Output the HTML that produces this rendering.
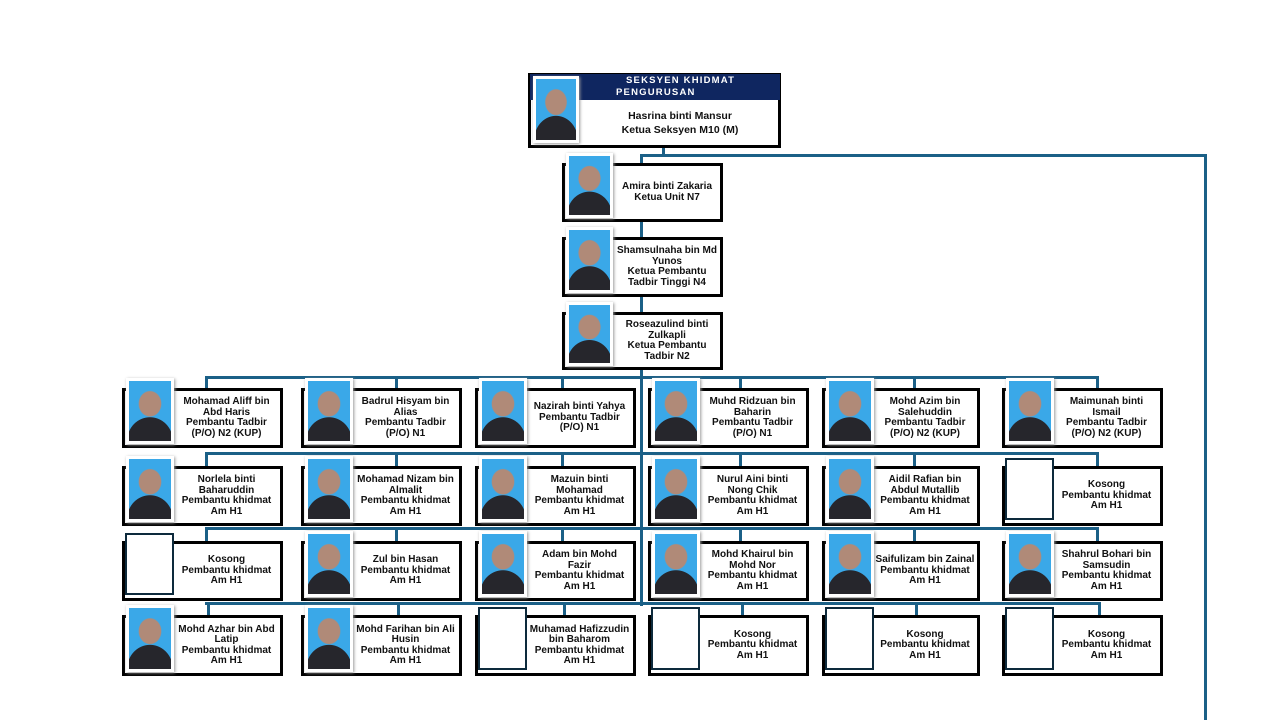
<!DOCTYPE html>
<html><head><meta charset="utf-8"><style>
body{margin:0;width:1280px;height:720px;background:#fff;position:relative;overflow:hidden;font-family:"Liberation Sans",sans-serif}
.l{position:absolute;background:#1b6087}
.b{position:absolute;border:3px solid #000;background:#fff;box-sizing:border-box}
.t{position:absolute;font-size:10px;font-weight:bold;text-align:center;line-height:10.5px;color:#111;display:flex;align-items:center;justify-content:center}
.p{position:absolute;background:#fff;box-shadow:1px 1px 3px #999;box-sizing:border-box;padding:3px}
.p div{width:100%;height:100%;background:radial-gradient(ellipse 28% 22% at 50% 38%,#b08a78 0 92%,transparent 100%),radial-gradient(ellipse 55% 40% at 50% 100%,#26262c 0 98%,transparent 100%),#3aa8e8}
.k{position:absolute;border:2px solid #0d2a3c;background:#fff;box-sizing:border-box}
</style></head><body>
<div class="l" style="left:662px;top:146px;width:3px;height:10px"></div>
<div class="l" style="left:640px;top:154px;width:567px;height:3px"></div>
<div class="l" style="left:1204px;top:154px;width:3px;height:566px"></div>
<div class="l" style="left:640px;top:154px;width:3px;height:452px"></div>

<div class="l" style="left:205px;top:376px;width:894px;height:3px"></div>
<div class="l" style="left:205px;top:452px;width:894px;height:3px"></div>
<div class="l" style="left:205px;top:527px;width:894px;height:3px"></div>
<div class="l" style="left:205px;top:602px;width:894px;height:3px"></div>

<div class="b" style="left:528px;top:73px;width:253px;height:75px"></div>
<div style="position:absolute;left:530px;top:74px;width:250px;height:26px;background:#0f2660"></div>
<div style="position:absolute;left:616px;top:75px;width:160px;color:#fff;font-size:9.5px;font-weight:bold;letter-spacing:1.2px;line-height:12px"><span style="margin-left:10px">SEKSYEN KHIDMAT</span><br>PENGURUSAN</div>
<div class="p" style="left:533px;top:76px;width:46px;height:67px"><div></div></div>
<div class="t" style="left:580px;top:102px;width:200px;height:42px;font-size:10.5px;line-height:14px">Hasrina binti Mansur<br>Ketua Seksyen M10 (M)</div>

<div class="b" style="left:562px;top:163px;width:161px;height:59px"></div>
<div class="p" style="left:566px;top:153px;width:47px;height:65px"><div></div></div>
<div class="t" style="left:613px;top:165px;width:108px;height:55px">Amira binti Zakaria<br>Ketua Unit N7</div>

<div class="b" style="left:562px;top:237px;width:161px;height:60px"></div>
<div class="p" style="left:566px;top:227px;width:47px;height:66px"><div></div></div>
<div class="t" style="left:613px;top:239px;width:108px;height:56px">Shamsulnaha bin Md<br>Yunos<br>Ketua Pembantu<br>Tadbir Tinggi N4</div>

<div class="b" style="left:562px;top:312px;width:161px;height:58px"></div>
<div class="p" style="left:566px;top:302px;width:47px;height:64px"><div></div></div>
<div class="t" style="left:613px;top:314px;width:108px;height:54px">Roseazulind binti<br>Zulkapli<br>Ketua Pembantu<br>Tadbir N2</div>

<div class="l" style="left:205px;top:376px;width:3px;height:12px"></div><div class="l" style="left:395px;top:376px;width:3px;height:12px"></div><div class="l" style="left:561px;top:376px;width:3px;height:12px"></div><div class="l" style="left:739px;top:376px;width:3px;height:12px"></div><div class="l" style="left:913px;top:376px;width:3px;height:12px"></div><div class="l" style="left:1096px;top:376px;width:3px;height:12px"></div>
<div class="l" style="left:205px;top:452px;width:3px;height:14px"></div><div class="l" style="left:395px;top:452px;width:3px;height:14px"></div><div class="l" style="left:561px;top:452px;width:3px;height:14px"></div><div class="l" style="left:739px;top:452px;width:3px;height:14px"></div><div class="l" style="left:913px;top:452px;width:3px;height:14px"></div><div class="l" style="left:1096px;top:452px;width:3px;height:14px"></div>
<div class="l" style="left:205px;top:527px;width:3px;height:14px"></div><div class="l" style="left:395px;top:527px;width:3px;height:14px"></div><div class="l" style="left:561px;top:527px;width:3px;height:14px"></div><div class="l" style="left:739px;top:527px;width:3px;height:14px"></div><div class="l" style="left:913px;top:527px;width:3px;height:14px"></div><div class="l" style="left:1096px;top:527px;width:3px;height:14px"></div>
<div class="l" style="left:207px;top:602px;width:3px;height:14px"></div><div class="l" style="left:397px;top:602px;width:3px;height:14px"></div><div class="l" style="left:563px;top:602px;width:3px;height:14px"></div><div class="l" style="left:741px;top:602px;width:3px;height:14px"></div><div class="l" style="left:915px;top:602px;width:3px;height:14px"></div><div class="l" style="left:1098px;top:602px;width:3px;height:14px"></div>

<div id="g"></div>
<script>
var cols=[[122,161],[301,161],[475,161],[648,161],[822,158],[1002,161]];
var rows=[[388,60],[466,60],[541,60],[615,61]];
var d=[
["Mohamad Aliff bin<br>Abd Haris<br>Pembantu Tadbir<br>(P/O) N2 (KUP)","Badrul Hisyam bin<br>Alias<br>Pembantu Tadbir<br>(P/O) N1","Nazirah binti Yahya<br>Pembantu Tadbir<br>(P/O) N1","Muhd Ridzuan bin<br>Baharin<br>Pembantu Tadbir<br>(P/O) N1","Mohd Azim bin<br>Salehuddin<br>Pembantu Tadbir<br>(P/O) N2 (KUP)","Maimunah binti<br>Ismail<br>Pembantu Tadbir<br>(P/O) N2 (KUP)"],
["Norlela binti<br>Baharuddin<br>Pembantu khidmat<br>Am H1","Mohamad Nizam bin<br>Almalit<br>Pembantu khidmat<br>Am H1","Mazuin binti<br>Mohamad<br>Pembantu khidmat<br>Am H1","Nurul Aini binti<br>Nong Chik<br>Pembantu khidmat<br>Am H1","Aidil Rafian bin<br>Abdul Mutallib<br>Pembantu khidmat<br>Am H1","*Kosong<br>Pembantu khidmat<br>Am H1"],
["*Kosong<br>Pembantu khidmat<br>Am H1","Zul bin Hasan<br>Pembantu khidmat<br>Am H1","Adam bin Mohd<br>Fazir<br>Pembantu khidmat<br>Am H1","Mohd Khairul bin<br>Mohd Nor<br>Pembantu khidmat<br>Am H1","Saifulizam bin Zainal<br>Pembantu khidmat<br>Am H1","Shahrul Bohari bin<br>Samsudin<br>Pembantu khidmat<br>Am H1"],
["Mohd Azhar bin Abd<br>Latip<br>Pembantu khidmat<br>Am H1","Mohd Farihan bin Ali<br>Husin<br>Pembantu khidmat<br>Am H1","*Muhamad Hafizzudin<br>bin Baharom<br>Pembantu khidmat<br>Am H1","*Kosong<br>Pembantu khidmat<br>Am H1","*Kosong<br>Pembantu khidmat<br>Am H1","*Kosong<br>Pembantu khidmat<br>Am H1"]];
var h="";
for(var r=0;r<4;r++)for(var c=0;c<6;c++){
var x=cols[c][0],w=cols[c][1],y=rows[r][0],hh=rows[r][1],s=d[r][c],k=s[0]=="*";if(k)s=s.slice(1);
h+='<div class="b" style="left:'+x+'px;top:'+y+'px;width:'+w+'px;height:'+hh+'px"></div>';
if(k)h+='<div class="k" style="left:'+(x+3)+'px;top:'+(y-8)+'px;width:49px;height:'+(hh+2)+'px"></div>';
else h+='<div class="p" style="left:'+(x+4)+'px;top:'+(y-10)+'px;width:48px;height:'+(hh+6)+'px"><div></div></div>';
h+='<div class="t" style="left:'+(x+52)+'px;top:'+(y+2)+'px;width:'+(w-56)+'px;height:'+(hh-4)+'px">'+s+'</div>';}
document.getElementById("g").innerHTML=h;
</script>
</body></html>
